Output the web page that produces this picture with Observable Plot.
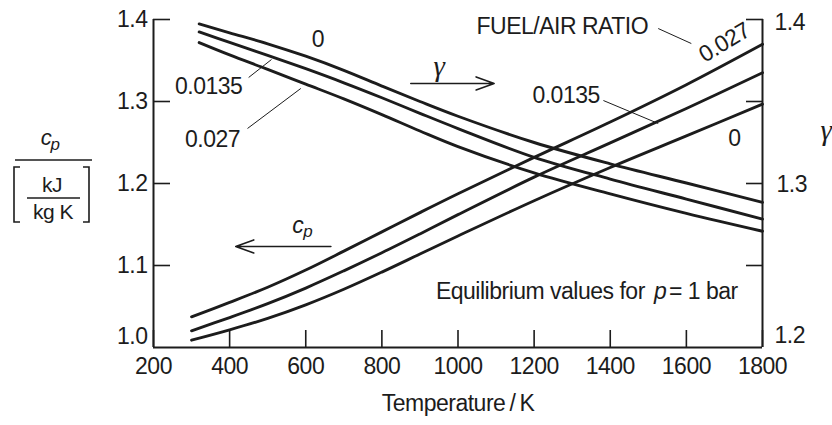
<!DOCTYPE html>
<html><head><meta charset="utf-8">
<script src="https://cdn.jsdelivr.net/npm/d3@7"></script>
<script src="https://cdn.jsdelivr.net/npm/@observablehq/plot@0.6"></script>
<style>
html,body{margin:0;padding:0;background:#fff;}
</style>
</head><body><div id="chart"></div>
<script>
// Temperature grid (K)
const tempsCp = [300, 400, 500, 600, 700, 800, 900, 1000, 1200, 1400, 1600, 1800];
const tempsGamma = [320, 400, 500, 600, 700, 800, 900, 1000, 1200, 1400, 1600, 1800];

// cp [kJ/(kg K)] for fuel/air ratios 0, 0.0135, 0.027
const cp0    = [1.0089, 1.0215, 1.0355, 1.0520, 1.0710, 1.0920, 1.1140, 1.1360, 1.1790, 1.2195, 1.2580, 1.2967];
const cp0135 = [1.0204, 1.0365, 1.0535, 1.0725, 1.0935, 1.1155, 1.1385, 1.1620, 1.2077, 1.2495, 1.2915, 1.3351];
const cp027  = [1.0374, 1.0550, 1.0735, 1.0945, 1.1175, 1.1410, 1.1645, 1.1875, 1.2318, 1.2750, 1.3205, 1.3698];

// gamma for fuel/air ratios 0, 0.0135, 0.027
const gamma0    = [1.3973, 1.3919, 1.3852, 1.3776, 1.3690, 1.3594, 1.3500, 1.3410, 1.3250, 1.3120, 1.3003, 1.2885];
const gamma0135 = [1.3924, 1.3860, 1.3782, 1.3700, 1.3614, 1.3523, 1.3428, 1.3335, 1.3160, 1.3027, 1.2905, 1.2783];
const gamma027  = [1.3859, 1.3784, 1.3696, 1.3606, 1.3516, 1.3420, 1.3320, 1.3225, 1.3065, 1.2937, 1.2818, 1.2709];

const ratios = ["0", "0.0135", "0.027"];
const xTicks = [200, 400, 600, 800, 1000, 1200, 1400, 1600, 1800];
const cpTicks = [1.0, 1.1, 1.2, 1.3, 1.4];
const gammaTicks = [1.2, 1.25, 1.3, 1.35, 1.4];
const gammaLabels = [1.2, 1.3, 1.4];

// gamma axis (right) shares the frame with cp axis (left): gamma 1.2..1.4 <-> cp 1.0..1.4
const gammaToY = g => 1.0 + 2 * (g - 1.2);
const fmtGamma = d => (1.2 + (d - 1) / 2).toFixed(1);

const cpRows = [];
[cp0, cp0135, cp027].forEach((arr, k) => arr.forEach((v, i) => cpRows.push({T: tempsCp[i], v, s: ratios[k]})));
const gRows = [];
[gamma0, gamma0135, gamma027].forEach((arr, k) => arr.forEach((v, i) => gRows.push({T: tempsGamma[i], g: v, s: ratios[k]})));

const ink = "#1c1c1c";
const font = "Liberation Sans, Arial, Helvetica, sans-serif";
const serif = "Liberation Serif, DejaVu Serif, serif";
const fs = 23;

const chart = Plot.plot({
  width: 832,
  height: 425,
  marginLeft: 153,
  marginRight: 70,
  marginTop: 19,
  marginBottom: 78,
  x: {domain: [200, 1800]},
  y: {domain: [1.0, 1.4]},
  style: {fontFamily: font, fontSize: fs + "px", letterSpacing: "-0.5px", color: ink, background: "#fff"},
  marks: [
    // frame
    Plot.ruleX([200, 1800], {y1: 1.0, y2: 1.4, stroke: ink, strokeWidth: 2}),
    Plot.ruleY([1.0], {x1: 200, x2: 1800, stroke: ink, strokeWidth: 2}),
    // bottom axis (inward ticks)
    Plot.axisX(xTicks, {anchor: "bottom", tickSize: -17, tickPadding: 27, strokeWidth: 1.6, fontSize: fs, label: null, tickFormat: d => String(d)}),
    // left cp axis
    Plot.axisY(cpTicks.slice(1), {anchor: "left", tickSize: -17, tickPadding: 23, strokeWidth: 1.6, fontSize: fs, label: null, tickFormat: d => d.toFixed(1)}),
    Plot.axisY([cpTicks[0]], {anchor: "left", tickSize: 0, tickPadding: 6, dy: -11, fontSize: fs, label: null, tickFormat: d => d.toFixed(1)}),
    // right gamma axis
    Plot.axisY(gammaTicks.slice(1).map(gammaToY), {anchor: "right", tickSize: -17, tickPadding: 17, strokeWidth: 1.6, fontSize: fs, label: null, tickFormat: () => ""}),
    Plot.axisY([gammaToY(gammaLabels[0])], {anchor: "right", tickSize: 0, tickPadding: 12, dy: -12, fontSize: fs, label: null, tickFormat: fmtGamma}),
    Plot.axisY([gammaToY(gammaLabels[1])], {anchor: "right", tickSize: 0, tickPadding: 14, dy: 1, fontSize: fs, label: null, tickFormat: fmtGamma}),
    Plot.axisY([gammaToY(gammaLabels[2])], {anchor: "right", tickSize: 0, tickPadding: 12, dy: 3, fontSize: fs, label: null, tickFormat: fmtGamma}),
    // curves
    Plot.line(cpRows, {x: "T", y: "v", z: "s", curve: "catmull-rom", stroke: ink, strokeWidth: 2.9}),
    Plot.line(gRows, {x: "T", y: d => gammaToY(d.g), z: "s", curve: "catmull-rom", stroke: ink, strokeWidth: 2.9}),
    // curve labels and leaders
    Plot.text(["0"], {x: 632, y: 1.3756, fontSize: fs}),
    Plot.text(["0.0135"], {x: 345, y: 1.3183, fontSize: fs}),
    Plot.link([0], {x1: 450, y1: 1.3293, x2: 510, y2: 1.3512, stroke: ink, strokeWidth: 1}),
    Plot.text(["0.027"], {x: 355, y: 1.2537, fontSize: fs}),
    Plot.link([0], {x1: 447, y1: 1.2671, x2: 587, y2: 1.3159, stroke: ink, strokeWidth: 1}),
    Plot.text(["FUEL/AIR RATIO"], {x: 1274, y: 1.3915, fontSize: fs}),
    Plot.link([0], {x1: 1526, y1: 1.389, x2: 1613, y2: 1.3707, stroke: ink, strokeWidth: 1}),
    Plot.text(["0.027"], {x: 1700, y: 1.372, rotate: -31, fontSize: fs}),
    Plot.text(["0.0135"], {x: 1284, y: 1.3073, fontSize: fs}),
    Plot.link([0], {x1: 1382, y1: 1.3012, x2: 1526, y2: 1.2732, stroke: ink, strokeWidth: 1}),
    Plot.text(["0"], {x: 1726, y: 1.2549, fontSize: fs}),
    // direction arrows
    Plot.arrow([0], {x1: 876, y1: 1.322, x2: 1095, y2: 1.322, stroke: ink, strokeWidth: 1.6, headLength: 18, headAngle: 40}),
    Plot.text(["γ"], {x: 950, y: 1.342, fontSize: 29, fontStyle: "italic", fontFamily: serif}),
    Plot.arrow([0], {x1: 666, y1: 1.1232, x2: 416, y2: 1.1232, stroke: ink, strokeWidth: 1.6, headLength: 18, headAngle: 40}),
    Plot.text(["c"], {x: 579, y: 1.1488, fontSize: fs, fontStyle: "italic"}),
    Plot.text(["p"], {x: 579, y: 1.1488, dx: 10, dy: 6, fontSize: 17, fontStyle: "italic"}),
    // note
    Plot.text(["Equilibrium values for"], {x: 942, y: 1.0683, textAnchor: "start", fontSize: fs}),
    Plot.text(["p"], {x: 942, y: 1.0683, dx: 218, textAnchor: "start", fontSize: fs, fontStyle: "italic"}),
    Plot.text(["= 1 bar"], {x: 942, y: 1.0683, dx: 233, textAnchor: "start", fontSize: fs}),
    // x axis title
    Plot.text(["Temperature\u2009/\u2009K"], {frameAnchor: "bottom", dy: 63, fontSize: fs})
  ]
});

// composite y-axis titles drawn in the margins
const svg = d3.select(chart);
const g = svg.append("g").attr("fill", ink).attr("font-family", font).style("letter-spacing", "-0.5px");
g.append("text").attr("x", 46).attr("y", 145).attr("font-size", 22).attr("font-style", "italic").text("c");
g.append("text").attr("x", 55).attr("y", 150).attr("font-size", 17).attr("font-style", "italic").text("p");
g.append("line").attr("x1", 15).attr("x2", 92).attr("y1", 160).attr("y2", 160).attr("stroke", ink).attr("stroke-width", 1.6);
g.append("path").attr("d", "M20,167H14V222H20").attr("fill", "none").attr("stroke", ink).attr("stroke-width", 1.6);
g.append("path").attr("d", "M83,167H89V222H83").attr("fill", "none").attr("stroke", ink).attr("stroke-width", 1.6);
g.append("text").attr("x", 52).attr("y", 192).attr("font-size", 21).attr("text-anchor", "middle").text("kJ");
g.append("line").attr("x1", 27).attr("x2", 80).attr("y1", 198).attr("y2", 198).attr("stroke", ink).attr("stroke-width", 1.4);
g.append("text").attr("x", 53).attr("y", 219).attr("font-size", 21).attr("text-anchor", "middle").text("kg K");
g.append("text").attr("x", 826).attr("y", 140).attr("font-size", 29).attr("font-style", "italic").attr("font-family", serif).text("γ");

document.getElementById("chart").appendChild(chart);
</script></body></html>
